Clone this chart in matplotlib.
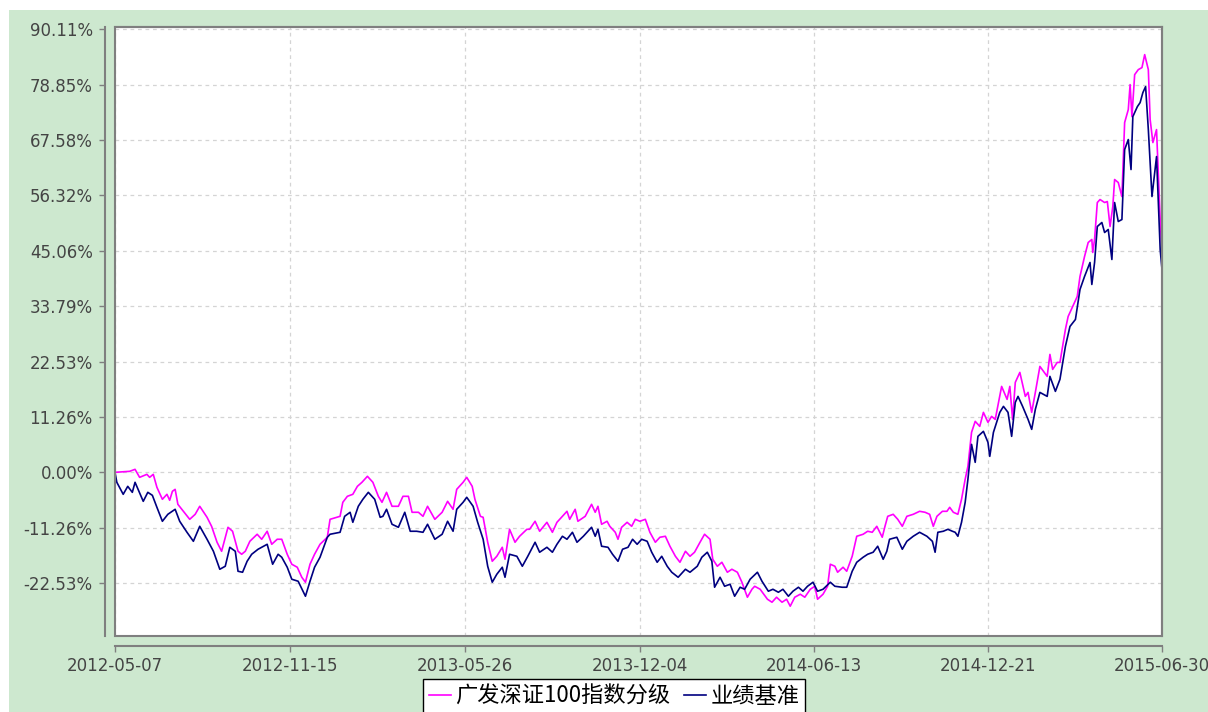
import numpy as np
import matplotlib
matplotlib.use("Agg")
import matplotlib.pyplot as plt
from matplotlib.patches import Rectangle
from matplotlib.font_manager import FontProperties

# cumulative return (%), x = days since 2012-05-07
start = np.datetime64("2012-05-07")
end = np.datetime64("2015-06-30")

fund_label = "广发深证100指数分级"
bench_label = "业绩基准"

fund_day = [0, 16, 22, 27, 35, 38, 42, 46, 52, 57, 60, 63, 66, 69, 75, 82, 88, 93, 101, 106,
            112, 117, 124, 129, 135, 139, 143, 148, 156, 161, 167, 172, 178, 183, 189, 194, 200,
            205, 209, 214, 219, 225, 233, 236, 247, 250, 255, 261, 266, 271, 277, 283, 289, 293,
            298, 304, 311, 316, 322, 326, 333, 338, 343, 351, 359, 365, 371, 375, 382, 386, 392,
            395, 401, 404, 409, 414, 419, 425, 428, 433, 439, 444, 452, 455, 461, 466, 474, 480,
            485, 491, 496, 499, 505, 508, 516, 523, 527, 530, 534, 540, 543, 549, 552, 556, 562,
            567, 571, 576, 582, 587, 593, 598, 604, 609, 615, 620, 626, 631, 636, 642, 647, 653,
            656, 661, 666, 672, 677, 683, 688, 694, 699, 702, 708, 716, 721, 726, 732, 737, 741,
            746, 752, 757, 763, 768, 771, 777, 782, 785, 790, 793, 799, 803, 809, 814, 821, 826,
            831, 836, 842, 845, 848, 854, 859, 864, 869, 876, 883, 889, 894, 898, 902, 908, 913,
            916, 920, 925, 929, 933, 936, 940, 944, 949, 953, 958, 962, 966, 973, 979, 982, 985,
            988, 993, 999, 1002, 1006, 1010, 1015, 1023, 1026, 1029, 1034, 1037, 1043, 1046,
            1051, 1056, 1059, 1064, 1068, 1072, 1073, 1075, 1078, 1081, 1086, 1089, 1092, 1095,
            1097, 1101, 1105, 1108, 1112, 1114, 1116, 1119, 1123, 1127, 1130, 1134, 1136, 1139,
            1143, 1147, 1149]
fund_pct = [0.00, 0.20, 0.61, -1.02, -0.41, -1.02, -0.41, -3.05, -5.49, -4.47, -5.69, -3.86,
            -3.46, -6.51, -7.93, -9.56, -8.54, -6.91, -9.15, -10.98, -14.23, -16.06, -11.18,
            -11.99, -16.06, -16.67, -16.06, -14.03, -12.60, -13.62, -11.99, -14.64, -13.62,
            -13.62, -16.67, -18.70, -19.31, -21.35, -22.36, -18.70, -16.67, -14.64, -13.21,
            -9.56, -8.95, -6.10, -4.88, -4.47, -2.85, -2.03, -0.81, -2.03, -4.88, -6.10, -4.07,
            -6.91, -6.91, -4.88, -4.88, -8.13, -8.13, -8.95, -6.91, -9.56, -8.13, -5.90, -7.52,
            -3.46, -2.03, -1.02, -2.85, -5.49, -8.95, -9.15, -14.23, -18.09, -17.08, -15.25,
            -17.69, -11.59, -14.23, -13.01, -11.59, -11.59, -9.96, -11.99, -10.17, -12.20,
            -10.17, -8.95, -7.93, -9.56, -7.52, -9.96, -8.95, -6.51, -8.13, -6.91, -10.57,
            -9.96, -10.98, -12.20, -13.62, -11.18, -10.17, -10.98, -9.56, -9.96, -9.56, -12.20,
            -14.23, -13.21, -13.01, -15.04, -17.08, -18.30, -16.06, -17.08, -16.26, -14.23,
            -12.60, -13.62, -17.69, -19.11, -18.30, -20.33, -19.72, -20.33, -22.36, -25.41,
            -23.79, -23.18, -23.79, -25.82, -26.43, -25.41, -26.43, -25.82, -27.24, -25.41,
            -24.80, -25.41, -23.79, -23.18, -25.82, -24.80, -23.18, -18.70, -19.11, -20.33,
            -19.31, -20.13, -17.08, -13.01, -12.60, -11.99, -12.20, -10.98, -13.21, -10.98,
            -8.95, -8.54, -9.56, -10.98, -8.95, -8.54, -7.93, -8.13, -8.54, -10.98, -8.95,
            -7.93, -7.93, -7.12, -8.13, -8.54, -5.49, -1.42, 1.22, 8.13, 10.37, 9.35, 12.20,
            10.17, 11.38, 10.77, 17.48, 14.84, 17.48, 10.77, 18.30, 20.33, 15.45, 16.26, 12.20,
            16.26, 21.55, 19.52, 23.99, 20.94, 22.36, 22.36, 29.07, 31.71, 33.75, 35.78, 39.85,
            43.91, 46.76, 47.37, 44.73, 47.37, 54.89, 55.50, 54.89, 55.09, 50.01, 54.08, 59.57,
            58.96, 56.11, 71.16, 73.80, 78.88, 72.37, 80.91, 81.93, 82.34, 84.98, 81.93, 71.76,
            67.09, 69.73, 51.43, 44.73]

bench_day = [0, 2, 9, 14, 19, 22, 31, 36, 41, 46, 52, 58, 66, 71, 79, 86, 93, 101, 108, 115,
             121, 126, 132, 135, 140, 145, 150, 157, 161, 167, 173, 179, 183, 189, 194, 201, 209,
             214, 219, 225, 233, 236, 247, 252, 258, 261, 267, 272, 278, 285, 291, 294, 298, 304,
             311, 318, 324, 331, 338, 343, 351, 359, 365, 371, 375, 382, 386, 393, 398, 404, 409,
             414, 419, 425, 428, 433, 441, 447, 453, 461, 466, 474, 480, 485, 491, 496, 502, 507,
             514, 523, 527, 530, 534, 541, 546, 552, 557, 563, 568, 573, 578, 584, 589, 595, 600,
             606, 611, 618, 626, 631, 639, 644, 650, 655, 658, 664, 669, 675, 680, 686, 691, 697,
             705, 710, 717, 722, 728, 733, 739, 744, 750, 755, 760, 766, 771, 777, 785, 790, 798,
             803, 809, 814, 821, 826, 832, 837, 843, 847, 850, 858, 864, 869, 876, 883, 891, 897,
             900, 903, 909, 914, 919, 922, 925, 929, 933, 936, 940, 944, 947, 953, 958, 960, 964,
             971, 975, 980, 984, 988, 991, 996, 1002, 1006, 1010, 1015, 1023, 1026, 1032, 1037,
             1043, 1048, 1054, 1059, 1064, 1070, 1072, 1075, 1078, 1083, 1086, 1090, 1094, 1097,
             1101, 1105, 1108, 1112, 1115, 1117, 1122, 1125, 1128, 1131, 1134, 1138, 1143, 1147,
             1149]
bench_pct = [0.00, -2.03, -4.47, -2.85, -4.07, -2.03, -5.90, -4.07, -4.68, -7.12, -9.96, -8.54,
             -7.52, -9.96, -12.20, -14.03, -10.98, -13.62, -16.06, -19.72, -19.11, -15.25,
             -16.06, -20.13, -20.33, -18.09, -16.67, -15.65, -15.25, -14.64, -18.70, -16.67,
             -17.28, -19.31, -21.75, -22.16, -25.21, -22.16, -19.31, -17.28, -13.21, -12.60,
             -12.20, -8.95, -8.13, -10.17, -6.91, -5.49, -4.07, -5.49, -9.15, -8.95, -7.52,
             -10.57, -11.18, -8.13, -11.99, -11.99, -12.20, -10.57, -13.62, -12.60, -9.96,
             -11.99, -7.52, -6.10, -5.08, -6.91, -10.17, -13.62, -19.11, -22.36, -20.74, -19.31,
             -21.35, -16.67, -17.08, -19.11, -17.08, -14.23, -16.26, -15.25, -16.26, -14.64,
             -13.01, -13.62, -12.20, -14.23, -13.01, -11.18, -13.01, -11.59, -15.04, -15.25,
             -16.67, -18.09, -15.65, -15.25, -13.62, -14.64, -13.62, -14.03, -16.26, -18.30,
             -17.08, -19.11, -20.33, -21.35, -19.72, -20.33, -19.11, -17.28, -16.26, -18.09,
             -23.38, -21.35, -23.18, -22.77, -25.21, -23.38, -23.79, -21.75, -20.33, -22.16,
             -24.19, -23.79, -24.40, -23.79, -25.21, -24.19, -23.38, -24.19, -23.18, -22.36,
             -24.19, -23.79, -22.36, -23.18, -23.38, -23.38, -20.13, -18.30, -17.28, -16.67,
             -16.26, -15.04, -17.69, -16.06, -13.62, -13.21, -15.65, -14.03, -13.01, -12.20,
             -13.01, -14.03, -16.26, -12.20, -11.99, -11.59, -11.99, -12.20, -13.01, -10.17,
             -6.10, -1.42, 5.69, 2.03, 7.32, 8.34, 6.10, 3.25, 8.13, 12.20, 13.42, 12.20, 7.32,
             14.23, 15.45, 13.42, 10.77, 8.74, 12.81, 16.26, 15.45, 19.52, 16.47, 18.91, 25.62,
             29.68, 31.10, 37.20, 39.85, 42.69, 38.22, 42.69, 50.01, 50.83, 48.79, 49.40, 43.30,
             54.89, 51.03, 51.43, 65.67, 67.70, 61.60, 72.37, 74.41, 75.22, 77.25, 78.47, 69.73,
             56.11, 64.24, 45.34, 41.27]

y_ticks = [90.11, 78.85, 67.58, 56.32, 45.06, 33.79, 22.53, 11.26, 0.00, -11.26, -22.53]
x_tick_labels = ["2012-05-07", "2012-11-15", "2013-05-26", "2013-12-04",
                 "2014-06-13", "2014-12-21", "2015-06-30"]

W, H = 1208, 712
fig = plt.figure(figsize=(W / 100, H / 100), dpi=100, facecolor="white")
# green panel behind everything
fig.add_artist(Rectangle((9 / W, 0), 1, (H - 10) / H, transform=fig.transFigure,
                         facecolor="#cde8cf", edgecolor="none", zorder=-5))

ax = fig.add_axes([115 / W, 1 - 636 / H, 1047 / W, 609 / H])
ax.set_facecolor("white")

fund_dates = start + np.array(fund_day).astype("timedelta64[D]")
bench_dates = start + np.array(bench_day).astype("timedelta64[D]")
ax.plot(fund_dates, fund_pct, color="#ff00ff", lw=1.2, label=fund_label)
ax.plot(bench_dates, bench_pct, color="#000080", lw=1.2, label=bench_label)

ax.set_xlim(start, end)
ax.set_ylim(-33.3, 90.6)

ax.set_yticks(y_ticks)
ax.set_yticklabels([f"{v:.2f}%" for v in y_ticks])
ax.set_xticks(np.array(x_tick_labels, dtype="datetime64[D]"))
ax.set_xticklabels(x_tick_labels)

ax.grid(True, color="#d4d4d4", linestyle=(0, (3, 3)), linewidth=0.9)
ax.set_axisbelow(True)

gray = "#7f7f7f"
for side in ["left", "bottom"]:
    ax.spines[side].set_position(("outward", 7))
for side in ax.spines:
    ax.spines[side].set_color(gray)
    ax.spines[side].set_linewidth(1.5)
# inner frame of the plot area
ax.add_patch(Rectangle((0, 0), 1, 1, transform=ax.transAxes, fill=False,
                       edgecolor=gray, lw=1.5, clip_on=False, zorder=5))

ax.tick_params(axis="both", direction="out", length=4, width=1, color=gray,
               labelcolor="#444444", labelsize=12)
ax.tick_params(axis="y", pad=5)
ax.tick_params(axis="x", pad=4)

leg = fig.legend(loc="upper center", bbox_to_anchor=(614 / W, 1 - 679 / H), ncol=2,
                 frameon=True, fancybox=False, edgecolor="black", framealpha=1,
                 prop=FontProperties(family=["Noto Sans CJK SC", "DejaVu Sans"], size=16),
                 handlelength=1.0, handletextpad=0.2, columnspacing=0.6,
                 borderpad=0.25, borderaxespad=0)
leg.get_frame().set_linewidth(1.0)

fig.savefig("out.png", dpi=100)
